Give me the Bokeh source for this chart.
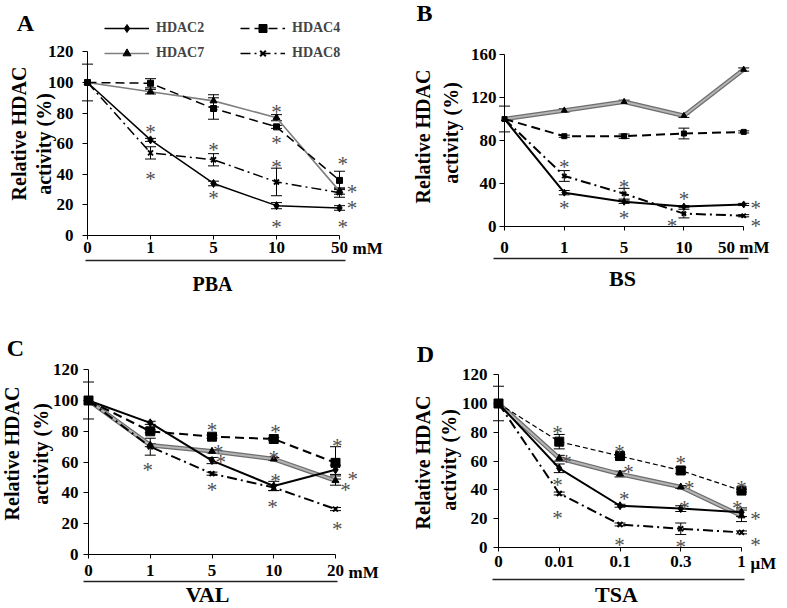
import math
from bokeh.plotting import figure
from bokeh.models import (Range1d, LinearAxis, FixedTicker, Whisker, ColumnDataSource,
                          Label, Legend, LegendItem, TeeHead)
from bokeh.layouts import column, row
from bokeh.embed import file_html
from bokeh.resources import INLINE
from bokeh.core.properties import value

FONT = "Liberation Serif"
SERIES = ["HDAC2", "HDAC4", "HDAC7", "HDAC8"]

# ---------------- data ----------------
# Panel A : PBA
a_ticks = ["0", "1", "5", "10", "50"]
a_hdac2 = [100, 62.5, 34, 19.5, 18]
a_hdac4 = [100, 99.5, 83, 71, 36]
a_hdac7 = [100, 94, 88, 77, 29]
a_hdac8 = [100, 54, 49.5, 35, 28]
a_err2 = [0, 1, 1.5, 2, 1.5]
a_err4 = [0, 3, 7, 1, 6]
a_err7 = [0, 1.5, 4, 2, 2]
a_err8 = [12, 4, 4, 9, 3]
a_star_x = [1, 1, 2, 2, 3, 3, 3, 3, 4.05, 4.2, 4.2, 4.05]
a_star_y = [71, 40.5, 59, 27.5, 84, 63.5, 48, 8.5, 50, 32, 21.5, 8.5]
a_yticks = [0, 20, 40, 60, 80, 100, 120]

# Panel B : BS
b_ticks = ["0", "1", "5", "10", "50 mM"]
b_hdac2 = [100, 31.5, 23, 18.5, 20.5]
b_hdac4 = [100, 84, 84, 86.5, 88]
b_hdac7 = [100, 108, 116, 103, 146]
b_hdac8 = [100, 47, 30.5, 12, 10]
b_err2 = [0, 2, 1.5, 1, 1]
b_err4 = [0, 1, 2, 5, 1]
b_err7 = [0, 1.5, 1.5, 1.5, 1.5]
b_err8 = [12, 5, 5, 4, 1]
b_star_x = [1, 1, 2, 2, 3, 2.8, 4.2, 4.2]
b_star_y = [60, 22, 41, 13, 30.5, 5.5, 22, 5.5]
b_yticks = [0, 40, 80, 120, 160]

# Panel C : VAL
c_ticks = ["0", "1", "5", "10", "20"]
c_hdac2 = [100, 85.5, 61, 44.5, 55]
c_hdac4 = [100, 80, 76.5, 75, 59.5]
c_hdac7 = [100, 71, 67, 62, 48]
c_hdac8 = [100, 70, 52.5, 43.5, 29.5]
c_err2 = [0, 1, 2, 3, 3]
c_err4 = [0, 1, 1, 1, 10.5]
c_err7 = [0, 1, 1, 1, 3]
c_err8 = [12, 5.5, 1, 2, 1]
c_star_x = [0.96, 2, 2.1, 2.14, 2, 3.03, 3, 3.03, 2.98, 4.03, 4.28, 4.16, 4.03]
c_star_y = [58, 84, 70, 63, 45, 82.5, 66, 51, 34, 74, 52, 45, 20]
c_yticks = [0, 20, 40, 60, 80, 100, 120]

# Panel D : TSA
d_ticks = ["0", "0.01", "0.1", "0.3", "1"]
d_hdac2 = [100, 55, 29, 27, 24.5]
d_hdac4 = [100, 73.5, 63.5, 53.5, 39.5]
d_hdac7 = [100, 62, 51, 42, 22]
d_hdac8 = [100, 37.5, 16, 13, 10.5]
d_err2 = [0, 3, 1, 2, 3]
d_err4 = [0, 5, 1, 2, 1]
d_err7 = [0, 2, 2, 1, 4]
d_err8 = [12, 1, 1, 4, 1]
d_star_x = [0.97, 1.12, 0.97, 0.97, 1.99, 2.14, 2.07, 1.99, 3.0, 3.14, 3.06, 3.0, 4.0, 3.93, 4.23, 4.23]
d_star_y = [83, 63, 47, 24, 70, 56, 37, 5.5, 62.5, 44.5, 31, 4, 44.5, 31, 23.5, 5.5]
d_yticks = [0, 20, 40, 60, 80, 100, 120]

TICK_FS = "17px"


def make_panel(cfg):
    sp, x0, y0, ypx = cfg["sp"], cfg["x0"], cfg["y0"], cfg["ypx"]
    fx, fy, fw, fh = cfg["fig"]

    def dx(px):
        return (px - x0) / sp

    def dy(py):
        return (y0 - py) / ypx

    p = figure(width=fw, height=fh,
               x_range=Range1d(dx(fx), dx(fx + fw)), y_range=Range1d(dy(fy + fh), dy(fy)),
               output_backend="svg", toolbar_location=None,
               min_border_left=0, min_border_right=0, min_border_top=0, min_border_bottom=0)
    p.title.visible = False
    p.outline_line_color = None
    p.xgrid.visible = False
    p.ygrid.visible = False
    p.background_fill_color = "white"
    p.border_fill_color = "white"

    n = len(cfg["ticks"])
    xi = list(range(n))

    # x axis drawn at y = 0
    xa = p.xaxis[0]
    xa.fixed_location = 0
    xa.ticker = FixedTicker(ticks=xi)
    xa.major_label_overrides = {i: t for i, t in enumerate(cfg["ticks"])}
    xa.major_tick_out = 4
    xa.major_tick_in = 0
    xa.minor_tick_line_color = None
    xa.major_label_standoff = cfg["xstand"]
    xa.major_label_text_font = FONT
    xa.major_label_text_font_style = "bold"
    xa.major_label_text_font_size = TICK_FS
    xa.major_label_text_color = "black"
    xa.axis_line_color = "black"
    xa.bounds = (0, n - 1)

    # rule under the tick labels
    lb = cfg["line_bounds"]
    ax2 = LinearAxis(ticker=FixedTicker(ticks=[]), major_tick_out=0, major_tick_in=0,
                     minor_tick_out=0, minor_tick_in=0, axis_line_width=1.5,
                     axis_line_color="#222222", bounds=(dx(lb[0]), dx(lb[1])),
                     major_label_text_font_size="0px", fixed_location=dy(cfg["rule_y"]))
    p.add_layout(ax2, "below")

    # y axis drawn at x = 0
    ya = p.yaxis[0]
    ya.fixed_location = 0
    ya.ticker = FixedTicker(ticks=cfg["yticks"])
    ya.major_tick_out = 5
    ya.major_tick_in = 0
    ya.minor_tick_line_color = None
    ya.major_label_standoff = cfg["ystand"]
    ya.major_label_text_font = FONT
    ya.major_label_text_font_style = "bold"
    ya.major_label_text_font_size = TICK_FS
    ya.major_label_text_color = "black"
    ya.axis_line_color = "black"
    ya.bounds = (0, cfg["yticks"][-1])

    vals = cfg["vals"]
    errs = cfg["errs"]

    # HDAC7 grey
    if cfg["thick7"]:
        r7a = p.line(xi, vals[2], line_color="#6e6e6e", line_width=4.5)
        r7b = p.line(xi, vals[2], line_color="#b4b4b4", line_width=2)
        r7 = [r7a, r7b]
    else:
        r7 = [p.line(xi, vals[2], line_color="#7f7f7f", line_width=1.6)]
    r4 = p.line(xi, vals[1], line_color="black", line_width=cfg["lw4"], line_dash=cfg["dash4"])
    r8 = p.line(xi, vals[3], line_color="black", line_width=cfg["lw"], line_dash="10 4 2 4")
    r2 = p.line(xi, vals[0], line_color="black", line_width=cfg["lw"])

    for k in range(4):
        ex = [i for i in xi if errs[k][i] > 0]
        up = [vals[k][i] + errs[k][i] for i in ex]
        lo = [vals[k][i] - errs[k][i] for i in ex]
        src = ColumnDataSource(dict(x=ex, upper=up, lower=lo))
        w = Whisker(base="x", upper="upper", lower="lower", source=src, dimension="height",
                    line_color="black", line_width=1,
                    upper_head=TeeHead(size=11, line_width=1, line_color="black"),
                    lower_head=TeeHead(size=11, line_width=1, line_color="black"))
        p.add_layout(w)

    ms = cfg["ms"]
    m7 = p.scatter(xi, vals[2], marker="triangle", size=ms + 1, color="black")
    m4 = p.scatter(xi, vals[1], marker="square", size=ms + cfg["sqx"], color="black")
    m8 = p.scatter(xi, vals[3], marker="x", size=ms + 1, line_color="black", line_width=2)
    m2 = p.scatter(xi, vals[0], marker="diamond", size=ms + 2, color="black")

    # significance asterisks
    p.text(x=cfg["star_x"], y=cfg["star_y"], text=["*"] * len(cfg["star_x"]),
           text_font=value(FONT), text_font_size="21px", text_color="#505050",
           text_align="center", text_baseline="alphabetic", y_offset=5)

    def lab(px, py, text, size, align="center", angle=0.0):
        p.add_layout(Label(x=dx(px), y=dy(py), text=text, text_font=FONT,
                           text_font_size=size, text_font_style="bold",
                           text_align=align, text_baseline="middle", angle=angle,
                           text_color="black"))

    lx, ly = cfg["letter"]
    lab(lx, ly, cfg["name"], "24px")
    t1, t2 = cfg["ytitle"]
    lab(t1[0], t1[1], "Relative HDAC", "20px", angle=math.pi / 2)
    lab(t2[0], t2[1], "activity  (%)", "20px", angle=math.pi / 2)
    if cfg["unit"]:
        ux, uy = cfg["unit_xy"]
        lab(ux, uy, cfg["unit"], TICK_FS, align="left")
    gx, gy = cfg["drug_xy"]
    lab(gx, gy, cfg["drug"], cfg["drug_size"])

    if cfg.get("legend"):
        # ncols fills column by column: column 1 = HDAC2, HDAC7; column 2 = HDAC4, HDAC8
        items = [LegendItem(label="HDAC2", renderers=[r2, m2]),
                 LegendItem(label="HDAC7", renderers=r7 + [m7]),
                 LegendItem(label="HDAC4", renderers=[r4, m4]),
                 LegendItem(label="HDAC8", renderers=[r8, m8])]
        lx0, ly0 = cfg["legend_tl"]
        leg = Legend(items=items, ncols=2, location=(lx0 - fx, fy + fh - ly0 - 45),
                     glyph_width=45, glyph_height=20, label_height=20, label_width=79,
                     label_standoff=7, spacing=5, padding=0, margin=0,
                     label_text_font=FONT, label_text_font_style="bold",
                     label_text_font_size="14px", background_fill_alpha=0,
                     border_line_color=None)
        p.add_layout(leg, "center")
    return p


pA = make_panel(dict(name="A", ticks=a_ticks, unit="mM", drug="PBA", drug_size="20px",
                     vals=[a_hdac2, a_hdac4, a_hdac7, a_hdac8],
                     errs=[a_err2, a_err4, a_err7, a_err8],
                     star_x=a_star_x, star_y=a_star_y, yticks=a_yticks,
                     fig=(0, 0, 392, 305), x0=87, sp=63, y0=235, ypx=1.53,
                     thick7=False, lw=1.5, lw4=1.5, dash4="9 5", ms=6, sqx=0, xstand=2, ystand=9,
                     line_bounds=(85, 345), rule_y=260, letter=(25, 22),
                     ytitle=((18, 133), (43, 141)), unit_xy=(352, 248), drug_xy=(212, 283),
                     legend=True, legend_tl=(104, 18)))

pB = make_panel(dict(name="B", ticks=b_ticks, unit=None, drug="BS", drug_size="22px",
                     vals=[b_hdac2, b_hdac4, b_hdac7, b_hdac8],
                     errs=[b_err2, b_err4, b_err7, b_err8],
                     star_x=b_star_x, star_y=b_star_y, yticks=b_yticks,
                     fig=(392, 0, 394, 305), x0=504, sp=59.8, y0=226, ypx=1.075,
                     thick7=True, lw=2, lw4=2, dash4="9 5", ms=5, sqx=0, xstand=7, ystand=3,
                     line_bounds=(493, 748), rule_y=258, letter=(424, 12),
                     ytitle=((422, 136), (450, 130)), unit_xy=(751, 245), drug_xy=(622, 278)))

pC = make_panel(dict(name="C", ticks=c_ticks, unit="mM", drug="VAL", drug_size="22px",
                     vals=[c_hdac2, c_hdac4, c_hdac7, c_hdac8],
                     errs=[c_err2, c_err4, c_err7, c_err8],
                     star_x=c_star_x, star_y=c_star_y, yticks=c_yticks,
                     fig=(0, 305, 392, 302), x0=88, sp=61.75, y0=554, ypx=1.54,
                     thick7=True, lw=2, lw4=2, dash4="9 5", ms=6, sqx=3, xstand=6, ystand=5,
                     line_bounds=(83, 337), rule_y=581, letter=(15, 347),
                     ytitle=((11, 453), (40, 451)), unit_xy=(348, 572), drug_xy=(207, 594)))

pD = make_panel(dict(name="D", ticks=d_ticks, unit="\u03bcM", drug="TSA", drug_size="22px",
                     vals=[d_hdac2, d_hdac4, d_hdac7, d_hdac8],
                     errs=[d_err2, d_err4, d_err7, d_err8],
                     star_x=d_star_x, star_y=d_star_y, yticks=d_yticks,
                     fig=(392, 305, 394, 302), x0=498, sp=60.75, y0=547, ypx=1.44,
                     thick7=True, lw=2, lw4=1.2, dash4="5 3", ms=6, sqx=3, xstand=4, ystand=6,
                     line_bounds=(492, 744), rule_y=579, letter=(425, 353),
                     ytitle=((422, 462), (448, 457)), unit_xy=(750, 563), drug_xy=(616, 594)))

layout = column(row(pA, pB), row(pC, pD))
open("out.html", "w").write(file_html(layout, INLINE))
